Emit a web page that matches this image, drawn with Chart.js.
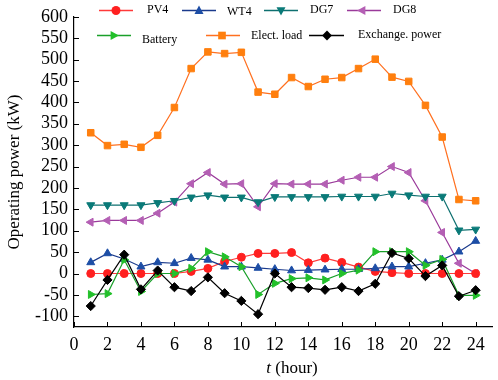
<!DOCTYPE html>
<html>
<head>
<meta charset="utf-8">
<script src="https://cdn.jsdelivr.net/npm/chart.js@4/dist/chart.umd.min.js"></script>
<style>
  html, body { margin: 0; padding: 0; background: #fff; }
  #wrap { width: 498px; height: 380px; }
</style>
</head>
<body>
<div id="wrap"><canvas id="powerChart" width="498" height="380"></canvas></div>
<script>
// hourly operating power (kW)
const hours = [1, 2, 3, 4, 5, 6, 7, 8, 9, 10, 11, 12, 13, 14, 15, 16, 17, 18, 19, 20, 21, 22, 23, 24];
const pv4 = [0, 0, 0, 0, 0, 0, 5, 12, 28, 38, 47, 47, 49, 25, 36, 26, 15, 5, 2, 0, 0, 0, 0, 0];
const wt4 = [26, 47, 34, 16, 26, 24, 36, 32, 16, 16, 13, 10, 7, 8, 9, 10, 10, 12, 16, 16, 24, 32, 51, 76];
const dg7 = [160, 160, 160, 160, 165, 170, 178, 183, 178, 178, 167, 179, 179, 179, 179, 180, 180, 180, 187, 183, 180, 180, 101, 103];
const dg8 = [120, 124, 124, 124, 141, 167, 210, 236, 209, 210, 156, 210, 209, 209, 209, 218, 225, 225, 250, 236, 170, 96, 24, 0];
const battery = [-49, -47, 32, -42, 0, 0, 12, 51, 39, 16, -49, -23, -12, -10, -15, 0, 8, 51, 51, 51, 19, 33, -51, -51];
const elecLoad = [329, 299, 302, 295, 323, 388, 479, 518, 514, 517, 424, 419, 458, 437, 454, 458, 479, 501, 459, 449, 393, 319, 173, 170];
const exchange = [-76, -15, 44, -37, 7, -32, -41, -9, -46, -64, -95, 0, -32, -34, -38, -32, -41, -24, 48, 35, -6, 19, -53, -39];

const yTicks = { min: -125, max: 600, step: 50 };
const xTicks = { min: 0, max: 25, step: 2 };

const serif = '"Liberation Serif", "DejaVu Serif", serif';

function series(label, values, line, fill, style, rot, order) {
    return {
        label: label,
        data: hours.map((h, i) => ({ x: h, y: values[i] })),
        borderColor: line,
        backgroundColor: fill,
        pointBackgroundColor: fill,
        pointBorderColor: fill,
        pointStyle: style,
        rotation: rot,
        pointRadius: style === 'circle' ? 4 : 4.6,
        pointBorderWidth: 1,
        borderWidth: 1.2,
        tension: 0,
        order: order
    };
}

// legend slots: [line start, line end, marker x, text x, row y, text y]
const legendSlots = [
    [99, 133, 116, 147, 10, 10],
    [182, 216, 199, 227, 10, 12],
    [264, 298, 281, 310, 10, 10],
    [347, 381, 362, 393, 10, 10],
    [97, 131, 114, 142, 35, 40],
    [206, 240, 222, 251, 35, 36],
    [309, 344, 327, 358, 35, 35]
];

function drawMarker(ctx, style, rot, x, y, r, color) {
    ctx.save();
    ctx.translate(x, y);
    ctx.rotate(rot * Math.PI / 180);
    ctx.fillStyle = color;
    ctx.beginPath();
    if (style === 'circle') {
        ctx.arc(0, 0, r, 0, Math.PI * 2);
    } else if (style === 'rect') {
        ctx.rect(-r * 0.85, -r * 0.85, r * 1.7, r * 1.7);
    } else if (style === 'rectRot') {
        ctx.moveTo(0, -r * 1.1); ctx.lineTo(r * 1.1, 0); ctx.lineTo(0, r * 1.1); ctx.lineTo(-r * 1.1, 0);
    } else {
        ctx.moveTo(0, -r * 1.1); ctx.lineTo(r, r * 0.75); ctx.lineTo(-r, r * 0.75);
    }
    ctx.closePath();
    ctx.fill();
    ctx.restore();
}

const decorPlugin = {
    id: 'decor',
    afterDraw(chart) {
        const ctx = chart.ctx;
        const area = chart.chartArea;
        const xs = chart.scales.x, ys = chart.scales.y;

        // inward ticks
        ctx.save();
        ctx.strokeStyle = '#000';
        ctx.lineWidth = 1;
        ctx.beginPath();
        xs.ticks.forEach(t => {
            const px = Math.round(xs.getPixelForValue(t.value)) + 0.5;
            ctx.moveTo(px, area.bottom);
            ctx.lineTo(px, area.bottom - 5);
        });
        ys.ticks.forEach(t => {
            const py = Math.round(ys.getPixelForValue(t.value)) + 0.5;
            ctx.moveTo(area.left, py);
            ctx.lineTo(area.left + 5, py);
        });
        ctx.stroke();

        // axis titles
        ctx.fillStyle = '#000';
        ctx.textBaseline = 'middle';
        ctx.font = 'italic 17px ' + serif;
        const tw = ctx.measureText('t').width;
        ctx.font = '17px ' + serif;
        const rest = ' (hour)';
        const total = tw + ctx.measureText(rest).width;
        const cx = 292;
        ctx.textAlign = 'left';
        ctx.font = 'italic 17px ' + serif;
        ctx.fillText('t', cx - total / 2, 369);
        ctx.font = '17px ' + serif;
        ctx.fillText(rest, cx - total / 2 + tw, 369);

        ctx.save();
        ctx.translate(15, 172);
        ctx.rotate(-Math.PI / 2);
        ctx.textAlign = 'center';
        ctx.fillText('Operating power (kW)', 0, 0);
        ctx.restore();

        // legend
        ctx.font = '12px ' + serif;
        ctx.textAlign = 'left';
        chart.data.datasets.forEach((ds, i) => {
            const s = legendSlots[i];
            ctx.strokeStyle = ds.borderColor;
            ctx.lineWidth = 1.3;
            ctx.beginPath();
            ctx.moveTo(s[0], s[4] + 0.5);
            ctx.lineTo(s[1], s[4] + 0.5);
            ctx.stroke();
            drawMarker(ctx, ds.pointStyle, ds.rotation, s[2], s[4] + 0.5, 4.5, ds.pointBackgroundColor);
            ctx.fillStyle = '#000';
            ctx.fillText(ds.label, s[3], s[5]);
        });
        ctx.restore();
    }
};

new Chart(document.getElementById('powerChart'), {
    type: 'line',
    data: {
        datasets: [
            series('PV4', pv4, '#ff3a3a', '#ff2020', 'circle', 0, 5),
            series('WT4', wt4, '#1a3a8c', '#1d4ea6', 'triangle', 0, 4),
            series('DG7', dg7, '#0e7070', '#0a7a78', 'triangle', 180, 6),
            series('DG8', dg8, '#9a3a9a', '#b45fb4', 'triangle', -90, 7),
            series('Battery', battery, '#1aa02a', '#22c02a', 'triangle', 90, 2),
            series('Elect. load', elecLoad, '#ff7020', '#ff7f0e', 'rect', 0, 8),
            series('Exchange. power', exchange, '#000000', '#000000', 'rectRot', 0, 1)
        ]
    },
    options: {
        responsive: false,
        animation: false,
        layout: { padding: { top: 14, right: 3, left: 0, bottom: 0 } },
        plugins: {
            legend: { display: false },
            tooltip: { enabled: false }
        },
        scales: {
            x: {
                type: 'linear',
                min: xTicks.min,
                max: xTicks.max,
                grid: { display: true, drawOnChartArea: false, drawTicks: false },
                border: { display: true, color: '#000', width: 1.2 },
                ticks: {
                    stepSize: xTicks.step,
                    includeBounds: false,
                    color: '#000',
                    font: { family: serif, size: 18 },
                    padding: 7,
                    maxRotation: 0,
                    autoSkip: false
                },
                afterBuildTicks(scale) {
                    scale.ticks = scale.ticks.filter(t => t.value % xTicks.step === 0 && t.value <= 24);
                },
                afterFit(scale) { scale.height = 53; }
            },
            y: {
                min: yTicks.min,
                max: yTicks.max,
                grid: { display: true, drawOnChartArea: false, drawTicks: false },
                border: { display: true, color: '#000', width: 1.2 },
                ticks: {
                    stepSize: yTicks.step,
                    includeBounds: false,
                    color: '#000',
                    font: { family: serif, size: 18 },
                    padding: 6,
                    autoSkip: false
                },
                afterBuildTicks(scale) {
                    scale.ticks = scale.ticks.filter(t => t.value % yTicks.step === 0);
                },
                afterFit(scale) { scale.width = 74; }
            }
        }
    },
    plugins: [decorPlugin]
});
</script>
</body>
</html>
